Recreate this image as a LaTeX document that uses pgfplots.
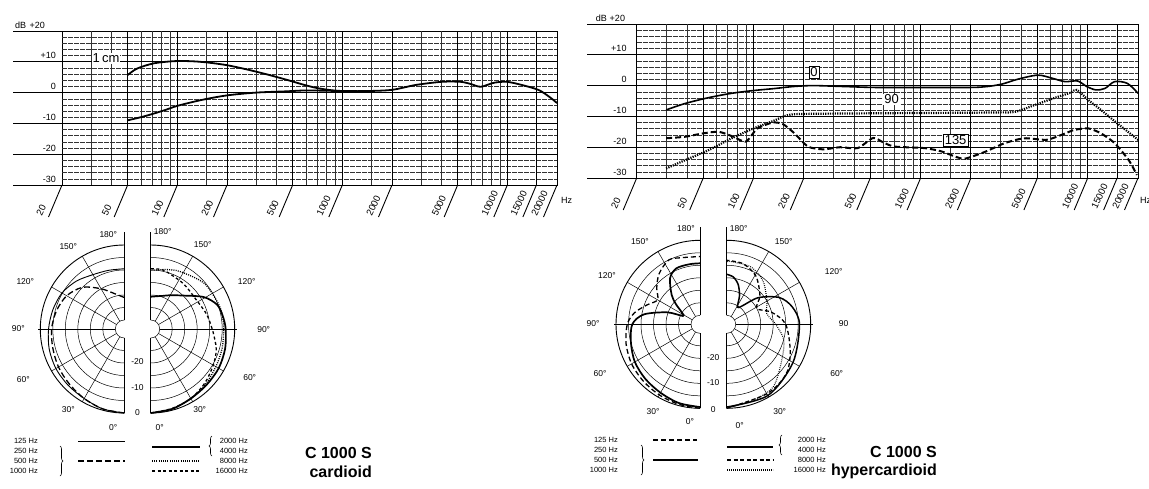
\documentclass[border=0pt]{standalone}
\usepackage{fontspec}
\setmainfont{Liberation Sans}
\usepackage{pgfplots}
\pgfplotsset{compat=1.18}
\usepackage{pgfplotstable}
\usetikzlibrary{decorations.pathreplacing}

\newcommand{\tk}{\fontsize{9}{9}\selectfont}
\newcommand{\xtk}{\fontsize{9.5}{9.5}\selectfont}
\newcommand{\lgf}{\fontsize{7.5}{7.5}\selectfont}
\newcommand{\angf}{\fontsize{8.5}{8.5}\selectfont}
\newcommand{\boxf}{\fontsize{13}{13}\selectfont}
\newcommand{\ttlf}{\fontsize{16}{16}\selectfont\bfseries}

% ---------- frequency responses (Hz, dB) ----------
\pgfplotstableread{
f d
50 -9.0
60 -8.0
70 -7.0
85 -5.6
100 -4.3
140 -2.4
200 -0.9
300 0.0
450 0.4
600 0.7
800 0.6
1000 0.5
1400 0.5
2000 0.9
2800 2.5
4000 3.5
5200 3.5
6000 2.8
6900 1.9
8300 3.2
9900 3.5
12000 2.6
15400 0.9
18000 -1.4
20000 -3.4
}\farL
\pgfplotstableread{
f d
50 5.7
57 7.8
72 9.5
95 10.2
120 10.2
151 9.8
200 8.9
265 7.5
350 5.9
464 4.1
588 2.5
700 1.5
850 0.8
1000 0.5
}\nearL
\pgfplotstableread{
f d
30 -7.9
39 -5.8
54 -3.9
74 -2.5
100 -1.6
131 -1.0
173 -0.3
228 0.0
350 -0.3
534 -0.6
1000 -0.6
2000 -0.6
2500 -0.3
3070 0.5
3830 2.1
5030 3.4
6120 2.4
7300 1.3
8700 1.5
9870 -0.3
11200 -1.4
12700 -0.9
14500 1.3
17300 0.7
20000 -2.5
}\zeroR
\pgfplotstableread{
f d
30 -26.9
39 -24.2
54 -20.9
74 -17.1
100 -13.9
131 -11.5
160 -9.6
200 -9.2
500 -9.0
1000 -8.9
2000 -8.8
3000 -8.7
3690 -8.5
4820 -6.3
6260 -4.1
7910 -2.3
8600 -1.4
10100 -4.7
12000 -7.9
15000 -12.2
19500 -17.1
20000 -17.6
}\ninetyR
\pgfplotstableread{
f d
30 -17.1
39 -16.6
50 -15.5
62 -15.0
75 -16.5
90 -18.2
105 -14.0
130 -12.0
150 -12.5
175 -15.4
212 -19.8
262 -20.7
330 -20.0
420 -20.3
520 -17.0
600 -18.5
700 -19.8
1060 -20.3
1340 -21.4
1620 -23.1
1850 -23.7
2430 -21.5
3180 -18.7
4160 -17.1
5660 -17.6
6970 -16.0
8300 -14.4
10100 -13.9
12000 -15.5
14500 -18.7
17600 -24.2
19700 -29.0
}\oneRtfR

% ---------- polar patterns (angle deg, dB) ----------
\pgfplotstableread{
a d
0 0
15 -0.5
30 -1.5
45 -1.8
60 -2.0
75 -2.5
90 -3.3
105 -4.0
120 -4.8
135 -6.5
150 -8.5
165 -9.3
180 -9.5
}\cardA
\pgfplotstableread{
a d
0 0
15 -0.5
30 -1.5
45 -2.5
60 -3.2
75 -4.0
90 -4.5
105 -5.5
120 -7.0
135 -10.0
150 -15.0
165 -19.0
180 -21.0
}\cardB
\pgfplotstableread{
a d
0 0
15 -0.5
30 -1.5
45 -2.0
60 -2.2
75 -2.8
90 -3.6
100 -4.3
110 -5.3
121 -8.8
136 -15.0
150 -18.0
160 -19.5
170 -20.3
180 -20.7
}\cardC
\pgfplotstableread{
a d
0 0
15 -0.5
30 -1.5
45 -2.5
60 -3.5
75 -4.0
90 -4.4
101 -4.4
112 -4.8
131 -5.5
153 -7.8
165 -9.0
176 -10.0
180 -10.0
}\cardD
\pgfplotstableread{
a d
0 0
15 -0.7
30 -1.5
45 -3.0
60 -4.7
72 -6.0
80 -7.5
90 -9.0
105 -10.5
125 -12.0
140 -11.5
150 -11.0
168 -9.5
180 -9.5
}\cardE
\pgfplotstableread{
a d
0 0
15 -0.5
30 -1.0
45 -1.5
60 -2.0
75 -3.0
90 -4.5
100 -7.0
110 -11.0
120 -14.0
130 -11.0
141 -7.6
154 -5.0
165 -6.0
180 -6.5
}\hypA
\pgfplotstableread{
a d
0 -0.5
15 -1.0
30 -2.0
45 -2.7
60 -3.5
75 -5.0
90 -6.5
100 -10.8
110 -19.6
116 -26.0
123 -25.0
130 -21.0
136 -17.3
147 -11.6
157 -9.3
170 -9.2
180 -9.2
}\hypB
\pgfplotstableread{
a d
0 -0.5
30 -0.7
60 -3.0
90 -4.5
105 -6.5
117 -10.0
130 -17.0
140 -24.0
148 -25.5
156 -21.0
164 -17.0
172 -14.5
180 -13.6
}\hypC
\pgfplotstableread{
a d
0 0
30 -1.5
50 -2.6
67 -6.0
90 -10.0
105 -15.0
118 -20.0
131 -16.0
149 -11.0
165 -8.5
180 -8.0
}\hypD
\pgfplotstableread{
a d
0 0
20 -1.5
37 -2.5
58 -7.5
75 -10.0
90 -14.0
105 -17.0
120 -15.0
140 -11.0
157 -8.7
175 -8.5
180 -8.5
}\hypE

\tikzset{
 gthin/.style={black!80, line width=0.45pt},
 gthinh/.style={black!80, line width=0.45pt, dash pattern=on 5pt off 1pt},
 gthick/.style={black, line width=0.9pt},
 s125L/.style={black, line width=0.9pt},
 s250L/.style={black, line width=1.3pt, dash pattern=on 6pt off 3pt},
 s2000L/.style={black, line width=1.7pt},
 s8000L/.style={black, line width=1.3pt, dash pattern=on 1pt off 1.2pt},
 s16000L/.style={black, line width=1.3pt, dash pattern=on 3pt off 2.5pt},
 s125R/.style={black, line width=1.3pt, dash pattern=on 5pt off 3pt},
 s250R/.style={black, line width=1.7pt},
 s2000R/.style={black, line width=1.5pt},
 s8000R/.style={black, line width=1.3pt, dash pattern=on 4pt off 2.5pt},
 s16000R/.style={black, line width=1.1pt, dash pattern=on 0.8pt off 1.2pt},
}

% grid, slanted frequency ticks and their labels, drawn inside a frequency axis
\newcommand{\freqgrid}{%
 \pgfplotsinvokeforeach{30,40,60,70,80,90,150,300,400,600,700,800,900,1500,3000,4000,6000,7000,8000,9000}{%
  \draw[gthin] (axis cs:##1,-30) -- (axis cs:##1,20);}
 \pgfplotsinvokeforeach{-28,-26,-24,-22,-18,-16,-14,-12,-8,-6,-4,-2,2,4,6,8,12,14,16,18}{%
  \draw[gthinh] (axis cs:20,##1) -- (axis cs:20000,##1);}
 \pgfplotsinvokeforeach{50,100,200,500,1000,2000,5000,10000,15000}{%
  \draw[gthick] (axis cs:##1,-30) -- (axis cs:##1,20);}
 \pgfplotsinvokeforeach{-20,-10,0,10}{%
  \draw[gthick] (axis cs:20,##1) -- (axis cs:20000,##1);}
 \pgfplotsinvokeforeach{20,50,100,200,500,1000,2000,5000,10000,15000,20000}{%
  \draw[line width=0.9pt] (axis cs:##1,-30) -- ++(-13.5pt,-32pt);
  \path (axis cs:##1,-30) ++(-20pt,-32pt) node[rotate=65, anchor=south west, font=\xtk, inner sep=0pt] {##1};}
}

\newcommand{\polgrid}[3]{%
 \begin{scope}[shift={(#1pt,#3pt)}]
  \foreach \r in {9pt,21.5pt,34pt,46.5pt,59pt,71.5pt}{\draw[line width=0.5pt] (90:\r) arc[start angle=90,end angle=270,radius=\r];}
  \draw[line width=0.9pt] (90:84pt) arc[start angle=90,end angle=270,radius=84pt];
  \foreach \a in {120,150,210,240}{\draw[line width=0.5pt] (\a:9pt) -- (\a:84pt);}
  \draw[line width=0.4pt] (180:9pt) -- (180:86pt);
  \draw[line width=0.9pt] (0,-84pt) -- (0,-9pt) (0,9pt) -- (0,97pt);
 \end{scope}
 \begin{scope}[shift={(#2pt,#3pt)}]
  \foreach \r in {9pt,21.5pt,34pt,46.5pt,59pt,71.5pt}{\draw[line width=0.5pt] (-90:\r) arc[start angle=-90,end angle=90,radius=\r];}
  \draw[line width=0.9pt] (-90:84pt) arc[start angle=-90,end angle=90,radius=84pt];
  \foreach \a in {-60,-30,30,60}{\draw[line width=0.5pt] (\a:9pt) -- (\a:84pt);}
  \draw[line width=0.4pt] (0:9pt) -- (0:86pt);
  \draw[line width=0.9pt] (0,-84pt) -- (0,-9pt) (0,9pt) -- (0,97pt);
 \end{scope}
}

\begin{document}
\begin{tikzpicture}
\useasboundingbox (0,0) rectangle (1149pt,-488pt);

% ================= frequency response, cardioid =================
\begin{axis}[scale only axis, width=495pt, height=154pt, at={(62pt,-31pt)}, anchor=north west,
  xmode=log, xmin=20, xmax=20000, ymin=-30, ymax=20, xtick=\empty, ytick=\empty,
  axis line style={black, line width=1pt}, clip=false]
 \freqgrid
 \pgfplotsinvokeforeach{-30,-20,-10,0,10,20}{%
  \draw[line width=0.9pt] (axis cs:20,#1) -- ++(-49pt,0pt);
 }
 \addplot[black, line width=1.8pt, smooth, tension=0.5] table[x=f,y=d] {\farL};
 \addplot[black, line width=1.8pt, smooth, tension=0.5] table[x=f,y=d] {\nearL};
 \node[fill=white, inner sep=1pt, font=\boxf] at (axis cs:37,11.2) {1\,cm};
 \path (axis cs:20,-30) ++(-6pt,6pt) node[anchor=east, font=\tk, inner sep=0pt] {-30};
 \path (axis cs:20,-20) ++(-6pt,6pt) node[anchor=east, font=\tk, inner sep=0pt] {-20};
 \path (axis cs:20,-10) ++(-6pt,6pt) node[anchor=east, font=\tk, inner sep=0pt] {-10};
 \path (axis cs:20,0) ++(-6pt,6pt) node[anchor=east, font=\tk, inner sep=0pt] {0};
 \path (axis cs:20,10) ++(-6pt,6pt) node[anchor=east, font=\tk, inner sep=0pt] {+10};
 \path (axis cs:20,20) ++(-17pt,6pt) node[anchor=east, font=\tk, inner sep=0pt] {+20};
 \path (axis cs:20,20) ++(-47pt,6pt) node[anchor=west, font=\tk, inner sep=0pt] {dB};
 \path (axis cs:20000,-30) ++(4pt,-15pt) node[anchor=west, font=\tk, inner sep=0pt] {Hz};
\end{axis}

% ================= frequency response, hypercardioid =================
\begin{axis}[scale only axis, width=501.3pt, height=154pt, at={(636.7pt,-24pt)}, anchor=north west,
  xmode=log, xmin=20, xmax=20000, ymin=-30, ymax=20, xtick=\empty, ytick=\empty,
  axis line style={black, line width=1pt}, clip=false]
 \freqgrid
 \pgfplotsinvokeforeach{-30,-20,-10,0,10,20}{%
  \draw[line width=0.9pt] (axis cs:20,#1) -- ++(-50pt,0pt);
 }
 \addplot[black, line width=1.6pt, smooth, tension=0.5] table[x=f,y=d] {\zeroR};
 \addplot[black, line width=2.2pt, dash pattern=on 1.2pt off 1.2pt, smooth, tension=0.5] table[x=f,y=d] {\ninetyR};
 \addplot[black, line width=2pt, dash pattern=on 6pt off 3pt, smooth, tension=0.4] table[x=f,y=d] {\oneRtfR};
 \node[draw, line width=0.4pt, fill=white, inner sep=1.5pt, font=\boxf] at (axis cs:230,4.4) {0};
 \node[fill=white, inner sep=1pt, font=\boxf] at (axis cs:670,-4.5) {90};
 \node[draw, line width=0.4pt, fill=white, inner sep=1.5pt, font=\boxf] at (axis cs:1620,-17.7) {135};
 \path (axis cs:20,-30) ++(-10pt,6pt) node[anchor=east, font=\tk, inner sep=0pt] {-30};
 \path (axis cs:20,-20) ++(-10pt,6pt) node[anchor=east, font=\tk, inner sep=0pt] {-20};
 \path (axis cs:20,-10) ++(-10pt,6pt) node[anchor=east, font=\tk, inner sep=0pt] {-10};
 \path (axis cs:20,0) ++(-10pt,6pt) node[anchor=east, font=\tk, inner sep=0pt] {0};
 \path (axis cs:20,10) ++(-10pt,6pt) node[anchor=east, font=\tk, inner sep=0pt] {+10};
 \path (axis cs:20,20) ++(-11.5pt,6pt) node[anchor=east, font=\tk, inner sep=0pt] {+20};
 \path (axis cs:20,20) ++(-41pt,6pt) node[anchor=west, font=\tk, inner sep=0pt] {dB};
 \path (axis cs:20000,-30) ++(2pt,-22pt) node[anchor=west, font=\tk, inner sep=0pt] {Hz};
\end{axis}

% ================= polar grids =================
\polgrid{124.3}{150.7}{-329}
\polgrid{700}{726.7}{-324.3}

% ================= cardioid polar curves =================
\begin{axis}[hide axis, x=1pt, y=1pt, xmin=-100, xmax=100, ymin=-100, ymax=100, anchor=center, clip=false, at={(124.3pt,-329pt)}]
 \addplot[s125L, smooth, data cs=polar] table[x expr={270-\thisrow{a}}, y expr={84+2.5*\thisrow{d}}] {\cardA};
 \addplot[s250L, smooth, data cs=polar] table[x expr={270-\thisrow{a}}, y expr={84+2.5*\thisrow{d}}] {\cardB};
\end{axis}
\begin{axis}[hide axis, x=1pt, y=1pt, xmin=-100, xmax=100, ymin=-100, ymax=100, anchor=center, clip=false, at={(150.7pt,-329pt)}]
 \addplot[s2000L, smooth, data cs=polar] table[x expr={270+\thisrow{a}}, y expr={84+2.5*\thisrow{d}}] {\cardC};
 \addplot[s8000L, smooth, data cs=polar] table[x expr={270+\thisrow{a}}, y expr={84+2.5*\thisrow{d}}] {\cardD};
 \addplot[s16000L, smooth, data cs=polar] table[x expr={270+\thisrow{a}}, y expr={84+2.5*\thisrow{d}}] {\cardE};
\end{axis}

% ================= hypercardioid polar curves =================
\begin{axis}[hide axis, x=1pt, y=1pt, xmin=-100, xmax=100, ymin=-100, ymax=100, anchor=center, clip=false, at={(700pt,-324.3pt)}]
 \addplot[s125R, smooth, data cs=polar] table[x expr={270-\thisrow{a}}, y expr={84+2.5*\thisrow{d}}] {\hypA};
 \addplot[s250R, smooth, data cs=polar] table[x expr={270-\thisrow{a}}, y expr={84+2.5*\thisrow{d}}] {\hypB};
\end{axis}
\begin{axis}[hide axis, x=1pt, y=1pt, xmin=-100, xmax=100, ymin=-100, ymax=100, anchor=center, clip=false, at={(726.7pt,-324.3pt)}]
 \addplot[s2000R, smooth, data cs=polar] table[x expr={270+\thisrow{a}}, y expr={84+2.5*\thisrow{d}}] {\hypC};
 \addplot[s8000R, smooth, data cs=polar] table[x expr={270+\thisrow{a}}, y expr={84+2.5*\thisrow{d}}] {\hypD};
 \addplot[s16000R, smooth, data cs=polar] table[x expr={270+\thisrow{a}}, y expr={84+2.5*\thisrow{d}}] {\hypE};
\end{axis}

% ================= polar labels =================
\begin{scope}[every node/.style={font=\angf, inner sep=0pt}]
 \node at (108.3pt,-235pt) {180°};
 \node at (68.3pt,-247pt) {150°};
 \node at (25.3pt,-282pt) {120°};
 \node at (18.3pt,-329pt) {90°};
 \node at (23.3pt,-380pt) {60°};
 \node at (68.3pt,-410pt) {30°};
 \node at (113.3pt,-428pt) {0°};
 \node at (162.7pt,-232pt) {180°};
 \node at (202.7pt,-245pt) {150°};
 \node at (246.7pt,-282pt) {120°};
 \node at (263.7pt,-330pt) {90°};
 \node at (249.7pt,-378pt) {60°};
 \node at (199.7pt,-410pt) {30°};
 \node at (159.7pt,-428pt) {0°};
 \node[fill=white] at (137.5pt,-362pt) {-20};
 \node[fill=white] at (137.5pt,-388pt) {-10};
 \node[fill=white] at (137.5pt,-413pt) {0};
 \node at (686pt,-228.3pt) {180°};
 \node at (640pt,-241.3pt) {150°};
 \node at (607pt,-275.3pt) {120°};
 \node at (593pt,-323.3pt) {90°};
 \node at (600pt,-373.3pt) {60°};
 \node at (653pt,-411.3pt) {30°};
 \node at (690pt,-421.3pt) {0°};
 \node at (738.7pt,-228.3pt) {180°};
 \node at (783.7pt,-241.3pt) {150°};
 \node at (833.7pt,-271.3pt) {120°};
 \node at (843.7pt,-323.3pt) {90};
 \node at (836.7pt,-373.3pt) {60°};
 \node at (779.7pt,-411.3pt) {30°};
 \node at (739.7pt,-425.3pt) {0°};
 \node[fill=white] at (713.3pt,-358pt) {-20};
 \node[fill=white] at (713.3pt,-383pt) {-10};
 \node[fill=white] at (713.3pt,-410pt) {0};
\end{scope}

% ================= legends =================
\begin{scope}[every node/.style={font=\lgf, inner sep=0pt}]
 \node[anchor=east] at (38pt,-441pt) {125 Hz};
 \node[anchor=east] at (38pt,-451pt) {250 Hz};
 \node[anchor=east] at (38pt,-461pt) {500 Hz};
 \node[anchor=east] at (38pt,-471pt) {1000 Hz};
 \draw[line width=0.6pt, decorate, decoration={brace, amplitude=3pt}] (60pt,-446pt) -- (60pt,-476pt);
 \draw[s125L] (78pt,-441pt) -- (125pt,-441pt);
 \draw[s250L] (78pt,-461pt) -- (125pt,-461pt);
 \draw[s2000L] (152pt,-447pt) -- (200pt,-447pt);
 \draw[s8000L] (152pt,-461pt) -- (200pt,-461pt);
 \draw[s16000L] (152pt,-471pt) -- (200pt,-471pt);
 \draw[line width=0.6pt, decorate, decoration={brace, amplitude=3pt}] (212pt,-456pt) -- (212pt,-436pt);
 \node[anchor=east] at (248pt,-441pt) {2000 Hz};
 \node[anchor=east] at (248pt,-451pt) {4000 Hz};
 \node[anchor=east] at (248pt,-461pt) {8000 Hz};
 \node[anchor=east] at (248pt,-471pt) {16000 Hz};
 \node[anchor=east, font=\ttlf] at (372pt,-453pt) {C 1000 S};
 \node[anchor=east, font=\ttlf] at (372pt,-472pt) {cardioid};
 \node[anchor=east] at (618pt,-440pt) {125 Hz};
 \node[anchor=east] at (618pt,-450pt) {250 Hz};
 \node[anchor=east] at (618pt,-460pt) {500 Hz};
 \node[anchor=east] at (618pt,-470pt) {1000 Hz};
 \draw[line width=0.6pt, decorate, decoration={brace, amplitude=3pt}] (641pt,-445pt) -- (641pt,-475pt);
 \draw[s125R] (653pt,-440pt) -- (697pt,-440pt);
 \draw[s250R] (653pt,-460pt) -- (698pt,-460pt);
 \draw[s2000R] (727pt,-447pt) -- (773pt,-447pt);
 \draw[s8000R] (727pt,-460pt) -- (773pt,-460pt);
 \draw[s16000R] (727pt,-470pt) -- (773pt,-470pt);
 \draw[line width=0.6pt, decorate, decoration={brace, amplitude=3pt}] (782pt,-455pt) -- (782pt,-435pt);
 \node[anchor=east] at (826pt,-440pt) {2000 Hz};
 \node[anchor=east] at (826pt,-450pt) {4000 Hz};
 \node[anchor=east] at (826pt,-460pt) {8000 Hz};
 \node[anchor=east] at (826pt,-470pt) {16000 Hz};
 \node[anchor=east, font=\ttlf] at (937pt,-452pt) {C 1000 S};
 \node[anchor=east, font=\ttlf] at (937pt,-471pt) {hypercardioid};
\end{scope}
\end{tikzpicture}
\end{document}
